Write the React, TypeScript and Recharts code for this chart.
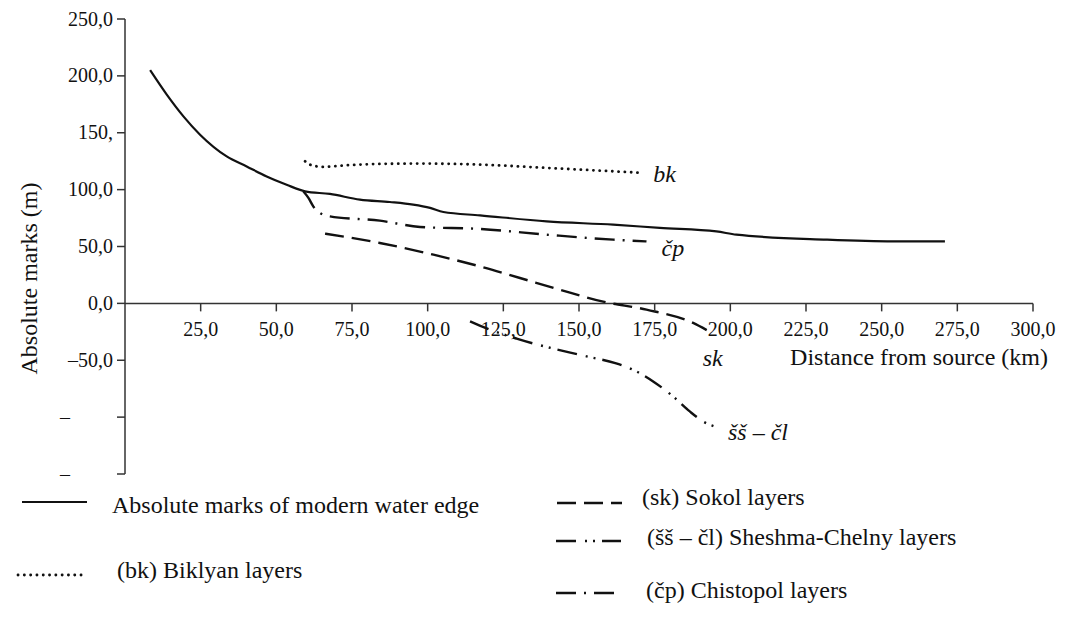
import { LineChart, Line, XAxis, YAxis, ReferenceLine, ReferenceDot } from 'recharts';

// distance from source (km), absolute mark (m)
const waterEdge = [
  [8.3, 205], [13.8, 183.5], [19.3, 164.4], [24.8, 148.3], [33.6, 129.2], [40.2, 120.4],
  [46.8, 111.6], [53.4, 104.3], [59.5, 98.5], [67.7, 96.2], [77.6, 91.2], [87.5, 89.1],
  [95.2, 86.8], [100.8, 83.9], [105.2, 80.3], [117.3, 77.4], [139.3, 72.1], [161.3, 69.2],
  [176.7, 66.4], [195.4, 63.3], [202, 60.4], [231.8, 56], [253.8, 54.5], [270.9, 54.5],
];
const biklyan = [
  [59.5, 124.9], [61.1, 122], [63.3, 120.5], [65.5, 120], [73.2, 121.4], [84.2, 122.6],
  [97.5, 122.9], [117.3, 122], [139.3, 119.1], [161.3, 116.1], [171.2, 114.7],
];
const chistopol = [
  [58.9, 98.5], [60.6, 92.7], [62.2, 85.3], [64.4, 79.5], [67.7, 76.5], [84.2, 72.7],
  [97.5, 67.2], [117.3, 65.4], [139.3, 60.4], [161.3, 56], [172.3, 54.5],
];
const sokol = [
  [66.1, 61.3], [84.2, 53.1], [101.9, 42.8], [117.3, 32.5], [130.5, 22.3], [143.7, 12],
  [158, 1.5], [172.3, -5.5], [187.7, -17.2], [192.2, -23.5],
];
const sheshmaChelny = [
  [114, -15.8], [119.5, -22], [129.4, -31], [152.5, -46.6], [162, -52.5], [169, -59.8],
  [174.5, -68.6], [181.1, -81.8], [186.6, -95], [191, -103.8], [196.6, -109.6],
];

const xTicks = [25, 50, 75, 100, 125, 150, 175, 200, 225, 250, 275, 300];
const xTickLabels = ['25,0', '50,0', '75,0', '100,0', '125,0', '150,0', '175,0', '200,0', '225,0', '250,0', '275,0', '300,0'];
const yTicks = [250, 200, 150, 100, 50, 0, -50, -100, -150];
const yTickLabels = ['250,0', '200,0', '150,', '100,0', '50,0', '0,0', '–50,0', '–', '–'];

const FONT = '"Liberation Serif", "Times New Roman", serif';
const AXIS = '#333';
const INK = '#111';

const series = [
  { id: 'edge', name: 'Absolute marks of modern water edge', tag: '', rows: waterEdge, dash: undefined, cap: 'butt', width: 2.2 },
  { id: 'bk', name: '(bk) Biklyan layers', tag: 'bk', rows: biklyan, dash: '0.1 6.2', cap: 'round', width: 2.8 },
  { id: 'sk', name: '(sk) Sokol layers', tag: 'sk', rows: sokol, dash: '19 8', cap: 'butt', width: 2.4 },
  { id: 'ss', name: '(šš – čl) Sheshma-Chelny layers', tag: 'šš – čl', rows: sheshmaChelny, dash: '20 9 2 6 2 7', cap: 'butt', width: 2.4 },
  { id: 'cp', name: '(čp) Chistopol layers', tag: 'čp', rows: chistopol, dash: '20 8 2 8', cap: 'butt', width: 2.4 },
];

// where the italic tag sits relative to the last point of its line
const tagShift: Record<string, [number, number]> = {
  bk: [10, 9],
  cp: [15, 15],
  sk: [-4, 36],
  ss: [8, 12],
};

// legend sample and text placement
const legendPlace: Record<string, { x: number; y: number; tx: number; ty: number }> = {
  edge: { x: 22, y: 502, tx: 112, ty: 513 },
  bk: { x: 18, y: 575, tx: 117, ty: 578 },
  sk: { x: 557, y: 503, tx: 642, ty: 505 },
  ss: { x: 556, y: 541, tx: 647, ty: 545 },
  cp: { x: 556, y: 593, tx: 646, ty: 598 },
};

const toPoints = (rows: number[][]) => rows.map(([x, y]) => ({ x, y }));

function YTick(props: any) {
  const { x, y, payload } = props;
  const label = yTickLabels[yTicks.indexOf(payload.value)];
  const lone = label === '–';
  return (
    <text
      x={lone ? x - 43 : x}
      y={y}
      dy="0.33em"
      textAnchor="end"
      fontFamily={FONT}
      fontSize={20}
      fill={INK}
    >
      {label}
    </text>
  );
}

export default function App() {
  return (
    <div style={{ position: 'absolute', left: 0, top: 0, width: 1068, height: 618, background: '#fff' }}>
      <LineChart width={1068} height={618} margin={{ top: 19, right: 35, bottom: 144, left: 0 }}>
        <XAxis dataKey="x" type="number" domain={[0, 300]} hide allowDataOverflow />
        <YAxis
          type="number"
          domain={[-150, 250]}
          ticks={yTicks}
          interval={0}
          width={125}
          tickSize={8}
          tickMargin={4}
          allowDataOverflow
          axisLine={{ stroke: AXIS, strokeWidth: 1.5 }}
          tickLine={{ stroke: AXIS, strokeWidth: 1.5 }}
          tick={<YTick />}
          label={{
            content: (p: any) => {
              const vb = p.viewBox;
              const cx = vb.x + 36.5;
              const cy = vb.y + vb.height / 2 + 32;
              return (
                <text x={cx} y={cy} transform={`rotate(-90, ${cx}, ${cy})`} textAnchor="middle" fontFamily={FONT} fontSize={24} fill={INK}>
                  Absolute marks (m)
                </text>
              );
            },
          }}
        />
        <ReferenceLine
          y={0}
          stroke={AXIS}
          strokeWidth={1.5}
          label={{
            content: (p: any) => {
              const vb = p.viewBox;
              return (
                <text x={vb.x + vb.width + 15} y={vb.y + 62} textAnchor="end" fontFamily={FONT} fontSize={24} fill={INK}>
                  Distance from source (km)
                </text>
              );
            },
          }}
        />
        {xTicks.map((t, i) => (
          <ReferenceDot
            key={`xt-${t}`}
            x={t}
            y={0}
            shape={(p: any) => (
              <g>
                <line x1={p.cx} y1={p.cy} x2={p.cx} y2={p.cy + 8} stroke={AXIS} strokeWidth={1.5} />
                <text x={p.cx} y={p.cy + 33} textAnchor="middle" fontFamily={FONT} fontSize={20} fill={INK}>
                  {xTickLabels[i]}
                </text>
              </g>
            )}
          />
        ))}
        {series.map((s) => (
          <Line
            key={s.id}
            data={toPoints(s.rows)}
            dataKey="y"
            type="monotone"
            stroke={INK}
            strokeWidth={s.width}
            strokeDasharray={s.dash}
            strokeLinecap={s.cap as any}
            dot={false}
            activeDot={false}
            isAnimationActive={false}
          />
        ))}
        {series
          .filter((s) => s.tag)
          .map((s) => {
            const last = s.rows[s.rows.length - 1];
            const [dx, dy] = tagShift[s.id];
            return (
              <ReferenceDot
                key={`tag-${s.id}`}
                x={last[0]}
                y={last[1]}
                shape={(p: any) => (
                  <text x={p.cx + dx} y={p.cy + dy} fontFamily={FONT} fontStyle="italic" fontSize={24} fill={INK}>
                    {s.tag}
                  </text>
                )}
              />
            );
          })}
      </LineChart>
      <svg width={1068} height={618} style={{ position: 'absolute', left: 0, top: 0, pointerEvents: 'none' }}>
        {series.map((s) => {
          const L = legendPlace[s.id];
          return (
            <g key={`lg-${s.id}`}>
              <line
                x1={L.x}
                y1={L.y}
                x2={L.x + 65}
                y2={L.y}
                stroke={INK}
                strokeWidth={s.width}
                strokeDasharray={s.dash}
                strokeLinecap={s.cap as any}
              />
              <text x={L.tx} y={L.ty} fontFamily={FONT} fontSize={24} fill={INK}>
                {s.name}
              </text>
            </g>
          );
        })}
      </svg>
    </div>
  );
}
